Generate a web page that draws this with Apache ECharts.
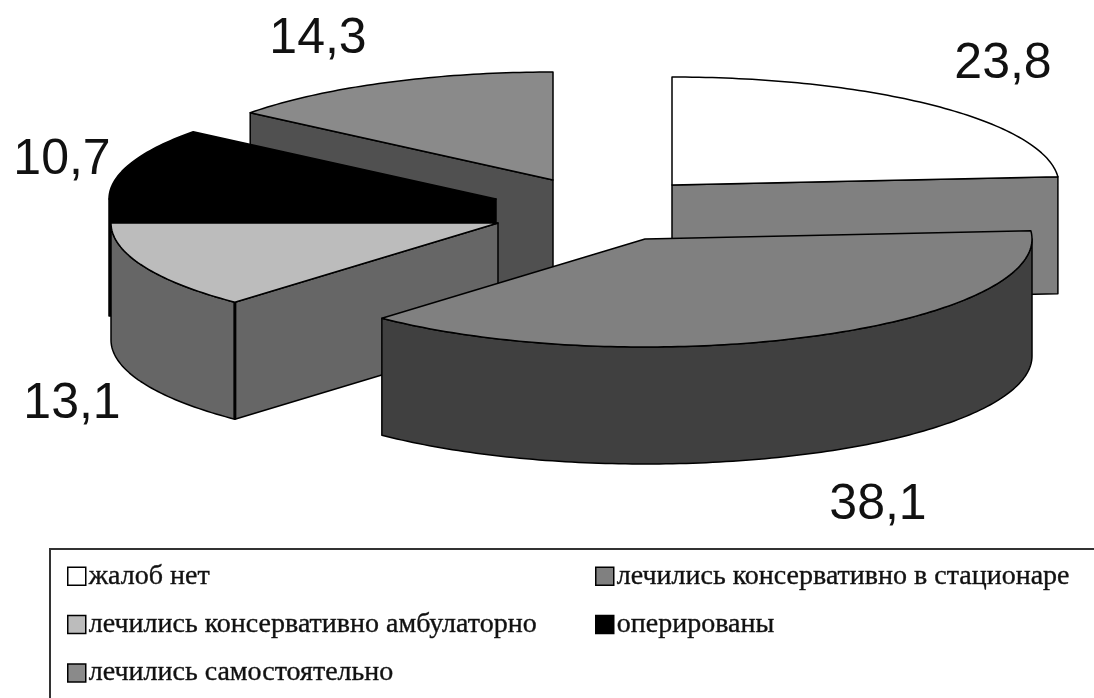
<!DOCTYPE html>
<html>
<head>
<meta charset="utf-8">
<style>
  html, body { margin: 0; padding: 0; background: #fff; }
  #chart { width: 1094px; height: 698px; }
</style>
<script src="https://cdn.jsdelivr.net/npm/echarts@6/dist/echarts.min.js"></script>
</head>
<body>
<div id="chart"></div>
<script>
// данные
const categories = [
  'жалоб нет',
  'лечились консервативно в стационаре',
  'лечились консервативно амбулаторно',
  'оперированы',
  'лечились самостоятельно'
];
const values = [23.8, 38.1, 13.1, 10.7, 14.3];

// оформление
const topColors = ['#ffffff', '#808080', '#bcbcbc', '#000000', '#8a8a8a'];
const wallColors = ['#808080', '#404040', '#666666', '#000000', '#505050'];
const centers = [[672, 185], [645, 239], [498, 223], [496, 199], [553, 180]];
const labelCenters = [[1003, 64], [878, 505], [72, 404], [62, 160], [318, 39]];
const drawOrder = [4, 0, 3, 2, 1]; // от дальнего к ближнему

const RX = 387;
const RY = 108;
const DEPTH = 117;
const total = values.reduce((a, b) => a + b, 0);
const starts = values.map((v, i) => values.slice(0, i).reduce((a, b) => a + b, 0));

function sampleArc(cx, cy, a0, a1) {
  const pts = [];
  const n = Math.max(2, Math.ceil((a1 - a0) / (Math.PI / 180)));
  for (let i = 0; i <= n; i++) {
    const a = a0 + (a1 - a0) * i / n;
    pts.push([cx + RX * Math.sin(a), cy - RY * Math.cos(a)]);
  }
  return pts;
}

function polygon(points, fill) {
  return {
    type: 'polygon',
    shape: { points: points },
    style: { fill: fill, stroke: '#000', lineWidth: 1.5, lineJoin: 'round' }
  };
}

function cutWall(cx, cy, p, fill) {
  return polygon([[cx, cy], p, [p[0], p[1] + DEPTH], [cx, cy + DEPTH]], fill);
}

function renderSlice(idx) {
  return function (params, api) {
    const value = api.value(0);
    const a0 = api.value(1) / total * Math.PI * 2;
    const a1 = a0 + value / total * Math.PI * 2;
    const cx = centers[idx][0];
    const cy = centers[idx][1];
    const arc = sampleArc(cx, cy, a0, a1);
    const children = [];

    // боковые срезы, видимые спереди
    if (Math.sin(a0) < 0) children.push(cutWall(cx, cy, arc[0], wallColors[idx]));
    if (Math.sin(a1) > 0) children.push(cutWall(cx, cy, arc[arc.length - 1], wallColors[idx]));

    // внешняя стенка, только передняя половина
    const f0 = Math.max(a0, Math.PI / 2);
    const f1 = Math.min(a1, Math.PI * 1.5);
    if (f1 > f0) {
      const front = sampleArc(cx, cy, f0, f1);
      const lower = front.map(p => [p[0], p[1] + DEPTH]).reverse();
      children.push(polygon(front.concat(lower), wallColors[idx]));

      // толстое ребро там, где срез встречается со стенкой
      if (Math.sin(a0) < 0) {
        children.push({
          type: 'line',
          shape: { x1: arc[0][0], y1: arc[0][1], x2: arc[0][0], y2: arc[0][1] + DEPTH },
          style: { stroke: '#000', lineWidth: 3 }
        });
      }
    }

    children.push(polygon([[cx, cy]].concat(arc), topColors[idx]));

    children.push({
      type: 'text',
      silent: true,
      style: {
        text: String(value).replace('.', ','),
        x: labelCenters[idx][0],
        y: labelCenters[idx][1],
        align: 'center',
        verticalAlign: 'middle',
        fontFamily: '"Liberation Sans", Arial, sans-serif',
        fontSize: 50,
        fill: '#111'
      }
    });
    return { type: 'group', children: children };
  };
}

const legendBase = {
  orient: 'vertical',
  selectedMode: false,
  padding: 0,
  height: 134,
  itemWidth: 18,
  itemHeight: 18,
  itemGap: 20,
  icon: 'rect',
  itemStyle: { borderColor: '#000', borderWidth: 1.5 },
  textStyle: {
    fontFamily: '"Liberation Serif", "Times New Roman", serif',
    fontSize: 28,
    color: '#111',
    textBorderColor: '#333',
    textBorderWidth: 0.4,
    padding: [0, 0, 0, -2]
  }
};

const chart = echarts.init(document.getElementById('chart'));
chart.setOption({
  animation: false,
  backgroundColor: '#fff',
  legend: [
    Object.assign({}, legendBase, { left: 67, top: 562, data: [categories[0], categories[2], categories[4]] }),
    Object.assign({}, legendBase, { left: 595, top: 562, data: [categories[1], categories[3]] })
  ],
  graphic: [{
    type: 'rect',
    z: -1,
    shape: { x: 50, y: 549, width: 1060, height: 170 },
    style: { fill: 'none', stroke: '#333', lineWidth: 2 }
  }],
  series: drawOrder.map(i => ({
    type: 'custom',
    name: categories[i],
    coordinateSystem: 'none',
    z: 2,
    itemStyle: { color: topColors[i] },
    renderItem: renderSlice(i),
    data: [[values[i], starts[i]]]
  }))
});
</script>
</body>
</html>
